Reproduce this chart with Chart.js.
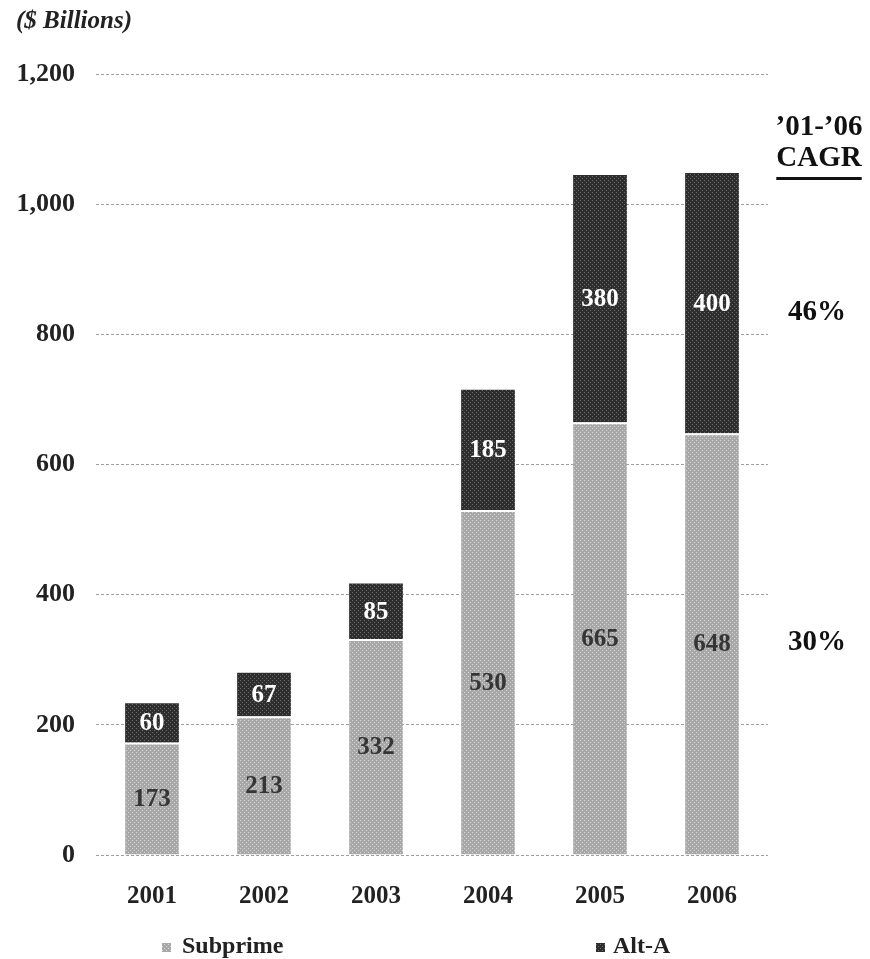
<!DOCTYPE html>
<html>
<head>
<meta charset="utf-8">
<title>Subprime and Alt-A Originations</title>
<script src="https://cdn.jsdelivr.net/npm/chart.js@4.4.1/dist/chart.umd.min.js"></script>
<style>
  html, body { margin: 0; padding: 0; background: #fff; }
  #wrap { position: relative; width: 870px; height: 959px; }
</style>
</head>
<body>
<div id="wrap"><canvas id="origChart" width="870" height="959"></canvas></div>
<script>
const years = ['2001', '2002', '2003', '2004', '2005', '2006'];
const subprime = [173, 213, 332, 530, 665, 648];
const altA = [60, 67, 85, 185, 380, 400];
const cagrHeader = ['\u201901-\u201906', 'CAGR'];
const cagrAltA = '46%';
const cagrSubprime = '30%';
const unitLabel = '($ Billions)';

const serif = "'Liberation Serif', 'Times New Roman', serif";

// small tiled patterns for the two bar fills
function makePattern(base, dot, size) {
    const c = document.createElement('canvas');
    c.width = size; c.height = size;
    const g = c.getContext('2d');
    g.fillStyle = base;
    g.fillRect(0, 0, size, size);
    g.fillStyle = dot;
    g.fillRect(0, 0, 1, 1);
    g.fillRect(2, 2, 1, 1);
    return document.getElementById('origChart').getContext('2d').createPattern(c, 'repeat');
}
const lightFill = makePattern('#a8a8a8', '#d6d6d6', 4);
const darkFill = makePattern('#2e2e2e', '#6a6a6a', 4);

// value labels centred in each segment
const segmentLabels = {
    id: 'segmentLabels',
    afterDatasetsDraw(chart) {
        const ctx = chart.ctx;
        ctx.save();
        ctx.font = 'bold 25px ' + serif;
        ctx.textAlign = 'center';
        ctx.textBaseline = 'middle';
        chart.data.datasets.forEach((ds, i) => {
            const meta = chart.getDatasetMeta(i);
            ctx.fillStyle = i === 0 ? '#353535' : '#ffffff';
            meta.data.forEach((bar, j) => {
                ctx.fillText(ds.data[j], bar.x, (bar.y + bar.base) / 2 + 1);
            });
        });
        ctx.restore();
    }
};

// unit note, CAGR column and legend
const extras = {
    id: 'extras',
    afterDraw(chart) {
        const ctx = chart.ctx;
        const y = chart.scales.y;
        ctx.save();
        ctx.fillStyle = '#222';
        ctx.textBaseline = 'middle';

        ctx.font = 'italic bold 25px ' + serif;
        ctx.textAlign = 'left';
        ctx.fillText(unitLabel, 16, 22);

        ctx.font = 'bold 29px ' + serif;
        ctx.textAlign = 'center';
        ctx.fillStyle = '#111';
        ctx.fillText(cagrHeader[0], 819, 128);
        ctx.fillText(cagrHeader[1], 819, 159);
        const w = ctx.measureText(cagrHeader[1]).width;
        ctx.fillRect(819 - w / 2, 177, w, 3);

        ctx.fillText(cagrAltA, 817, y.getPixelForValue(834));
        ctx.fillText(cagrSubprime, 817, y.getPixelForValue(326));

        // legend
        ctx.font = 'bold 24px ' + serif;
        ctx.textAlign = 'left';
        const items = [
            { x: 162, tx: 182, text: 'Subprime', fill: lightFill },
            { x: 596, tx: 613, text: 'Alt-A', fill: darkFill }
        ];
        items.forEach(it => {
            ctx.fillStyle = it.fill;
            ctx.fillRect(it.x, 943, 9, 9);
            ctx.fillStyle = '#222';
            ctx.fillText(it.text, it.tx, 947);
        });
        ctx.restore();
    }
};

new Chart(document.getElementById('origChart'), {
    type: 'bar',
    data: {
        labels: years,
        datasets: [{
            label: 'Subprime',
            data: subprime,
            backgroundColor: lightFill,
            borderColor: '#ffffff',
            borderWidth: { top: 2, left: 0, right: 0, bottom: 0 },
            borderSkipped: false,
            barPercentage: 0.48,
            categoryPercentage: 1
        }, {
            label: 'Alt-A',
            data: altA,
            backgroundColor: darkFill,
            borderWidth: 0,
            barPercentage: 0.48,
            categoryPercentage: 1
        }]
    },
    options: {
        responsive: false,
        animation: false,
        layout: { padding: { top: 74, right: 102, left: 0, bottom: 0 } },
        plugins: {
            legend: { display: false },
            tooltip: { enabled: false }
        },
        scales: {
            x: {
                stacked: true,
                grid: { display: false, drawTicks: false },
                border: { display: false },
                ticks: {
                    color: '#222',
                    padding: 27,
                    font: { family: serif, size: 25, weight: 'bold' }
                },
                afterFit(scale) { scale.height = 104; }
            },
            y: {
                stacked: true,
                min: 0,
                max: 1200,
                grid: {
                    color: '#a0a0a0',
                    lineWidth: 1,
                    drawTicks: false
                },
                border: { display: false, dash: [3, 2] },
                ticks: {
                    stepSize: 200,
                    color: '#222',
                    padding: 21,
                    font: { family: serif, size: 26, weight: 'bold' },
                    callback: v => v.toLocaleString('en-US')
                },
                afterFit(scale) { scale.width = 96; }
            }
        }
    },
    plugins: [segmentLabels, extras]
});
</script>
</body>
</html>
